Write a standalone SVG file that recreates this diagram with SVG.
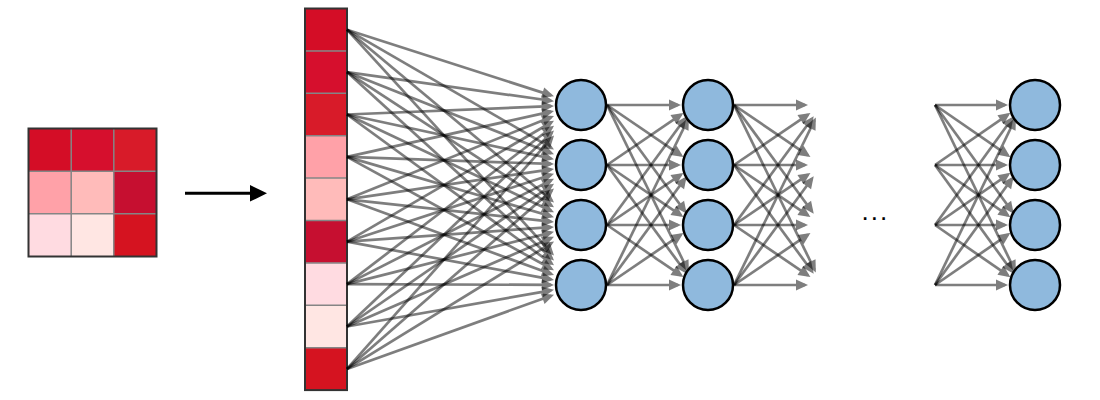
<svg xmlns="http://www.w3.org/2000/svg" width="1100" height="400" viewBox="0 0 1100 400">
<style>
.cells rect{stroke:none}
.gl{stroke:#858585;stroke-width:1.5;fill:none}
.bd{stroke:#333;stroke-width:2;fill:none}
.cn line{stroke:#000;stroke-width:2.7;opacity:.5;marker-end:url(#ah)}
.nd{fill:#8fb9dd;stroke:#000;stroke-width:2.5}
</style>
<defs>
<marker id="ah" markerUnits="userSpaceOnUse" markerWidth="12" markerHeight="11" refX="9" refY="5.5" orient="auto" overflow="visible">
<path d="M0,0 L12,5.5 L0,11 z" fill="#000"/>
</marker>
</defs>
<rect width="1100" height="400" fill="#fff"/>

<g id="input-grid">
<g class="cells">
<rect x="28.5" y="128.5" width="42.7" height="42.7" fill="#d40d26"/>
<rect x="71.2" y="128.5" width="42.7" height="42.7" fill="#d60f2d"/>
<rect x="113.8" y="128.5" width="42.7" height="42.7" fill="#d81b29"/>
<rect x="28.5" y="171.2" width="42.7" height="42.7" fill="#ffa1a8"/>
<rect x="71.2" y="171.2" width="42.7" height="42.7" fill="#ffbbba"/>
<rect x="113.8" y="171.2" width="42.7" height="42.7" fill="#c60f30"/>
<rect x="28.5" y="213.8" width="42.7" height="42.7" fill="#ffdbe1"/>
<rect x="71.2" y="213.8" width="42.7" height="42.7" fill="#ffe6e3"/>
<rect x="113.8" y="213.8" width="42.7" height="42.7" fill="#d51320"/>
</g>
<path class="gl" d="M71.2,128.5V256.5M113.8,128.5V256.5M28.5,171.2H156.5M28.5,213.8H156.5"/>
<rect class="bd" x="28.5" y="128.5" width="128" height="128"/>
</g>

<g id="flatten-arrow">
<line x1="185" y1="193.3" x2="251" y2="193.3" stroke="#000" stroke-width="3"/>
<path d="M250,185 L267,193.3 L250,201.6 z" fill="#000"/>
</g>

<g id="input-vector">
<g class="cells">
<rect x="305" y="8.5" width="42" height="42.4" fill="#d40d26"/>
<rect x="305" y="50.9" width="42" height="42.4" fill="#d60f2d"/>
<rect x="305" y="93.3" width="42" height="42.4" fill="#d81b29"/>
<rect x="305" y="135.7" width="42" height="42.4" fill="#ffa1a8"/>
<rect x="305" y="178.1" width="42" height="42.4" fill="#ffbbba"/>
<rect x="305" y="220.5" width="42" height="42.4" fill="#c60f30"/>
<rect x="305" y="262.9" width="42" height="42.4" fill="#ffdbe1"/>
<rect x="305" y="305.3" width="42" height="42.4" fill="#ffe6e3"/>
<rect x="305" y="347.7" width="42" height="42.4" fill="#d51320"/>
</g>
<path class="gl" d="M305,50.9H347M305,93.3H347M305,135.7H347M305,178.1H347M305,220.5H347M305,262.9H347M305,305.3H347M305,347.7H347"/>
<rect class="bd" x="305" y="8.5" width="42" height="381.6"/>
</g>

<g id="connectors" class="cn">
<line x1="347" y1="29.7" x2="551.14" y2="95.39"/><line x1="347" y1="29.7" x2="551.4" y2="147.89"/><line x1="347" y1="29.7" x2="551.7" y2="200.55"/><line x1="347" y1="29.7" x2="551.97" y2="253.33"/>
<line x1="347" y1="72.1" x2="551.03" y2="100.78"/><line x1="347" y1="72.1" x2="551.21" y2="153.17"/><line x1="347" y1="72.1" x2="551.49" y2="205.72"/><line x1="347" y1="72.1" x2="551.78" y2="258.41"/>
<line x1="347" y1="114.5" x2="551" y2="106.22"/><line x1="347" y1="114.5" x2="551.07" y2="158.54"/><line x1="347" y1="114.5" x2="551.29" y2="210.97"/><line x1="347" y1="114.5" x2="551.58" y2="263.56"/>
<line x1="347" y1="156.9" x2="551.07" y2="111.64"/><line x1="347" y1="156.9" x2="551" y2="163.97"/><line x1="347" y1="156.9" x2="551.12" y2="216.3"/><line x1="347" y1="156.9" x2="551.37" y2="268.78"/>
<line x1="347" y1="199.3" x2="551.22" y2="117"/><line x1="347" y1="199.3" x2="551.03" y2="169.4"/><line x1="347" y1="199.3" x2="551.02" y2="221.7"/><line x1="347" y1="199.3" x2="551.18" y2="274.08"/>
<line x1="347" y1="241.7" x2="551.41" y2="122.28"/><line x1="347" y1="241.7" x2="551.15" y2="174.78"/><line x1="347" y1="241.7" x2="551.01" y2="227.14"/><line x1="347" y1="241.7" x2="551.05" y2="279.45"/>
<line x1="347" y1="284.1" x2="551.62" y2="127.49"/><line x1="347" y1="284.1" x2="551.33" y2="180.1"/><line x1="347" y1="284.1" x2="551.09" y2="232.55"/><line x1="347" y1="284.1" x2="551" y2="284.89"/>
<line x1="347" y1="326.5" x2="551.82" y2="132.62"/><line x1="347" y1="326.5" x2="551.53" y2="185.33"/><line x1="347" y1="326.5" x2="551.25" y2="237.9"/><line x1="347" y1="326.5" x2="551.05" y2="290.31"/>
<line x1="347" y1="368.9" x2="552.01" y2="137.69"/><line x1="347" y1="368.9" x2="551.74" y2="190.5"/><line x1="347" y1="368.9" x2="551.44" y2="243.17"/><line x1="347" y1="368.9" x2="551.18" y2="295.69"/>

<line x1="607" y1="105" x2="678" y2="105"/><line x1="607" y1="165" x2="680.95" y2="114.58"/><line x1="607" y1="225" x2="684.95" y2="118.71"/><line x1="607" y1="285" x2="687.53" y2="120.27"/>
<line x1="607" y1="105" x2="680.95" y2="155.42"/><line x1="607" y1="165" x2="678" y2="165"/><line x1="607" y1="225" x2="680.95" y2="174.58"/><line x1="607" y1="285" x2="684.95" y2="178.71"/>
<line x1="607" y1="105" x2="684.95" y2="211.29"/><line x1="607" y1="165" x2="680.95" y2="215.42"/><line x1="607" y1="225" x2="678" y2="225"/><line x1="607" y1="285" x2="680.95" y2="234.58"/>
<line x1="607" y1="105" x2="687.53" y2="269.73"/><line x1="607" y1="165" x2="684.95" y2="271.29"/><line x1="607" y1="225" x2="680.95" y2="275.42"/><line x1="607" y1="285" x2="678" y2="285"/>

<line x1="734" y1="105" x2="805" y2="105"/><line x1="734" y1="165" x2="807.95" y2="114.58"/><line x1="734" y1="225" x2="811.95" y2="118.71"/><line x1="734" y1="285" x2="814.53" y2="120.27"/>
<line x1="734" y1="105" x2="807.95" y2="155.42"/><line x1="734" y1="165" x2="805" y2="165"/><line x1="734" y1="225" x2="807.95" y2="174.58"/><line x1="734" y1="285" x2="811.95" y2="178.71"/>
<line x1="734" y1="105" x2="811.95" y2="211.29"/><line x1="734" y1="165" x2="807.95" y2="215.42"/><line x1="734" y1="225" x2="805" y2="225"/><line x1="734" y1="285" x2="807.95" y2="234.58"/>
<line x1="734" y1="105" x2="814.53" y2="269.73"/><line x1="734" y1="165" x2="811.95" y2="271.29"/><line x1="734" y1="225" x2="807.95" y2="275.42"/><line x1="734" y1="285" x2="805" y2="285"/>

<line x1="935" y1="105" x2="1005" y2="105"/><line x1="935" y1="165" x2="1007.95" y2="114.58"/><line x1="935" y1="225" x2="1011.95" y2="118.71"/><line x1="935" y1="285" x2="1014.53" y2="120.27"/>
<line x1="935" y1="105" x2="1007.95" y2="155.42"/><line x1="935" y1="165" x2="1005" y2="165"/><line x1="935" y1="225" x2="1007.95" y2="174.58"/><line x1="935" y1="285" x2="1011.95" y2="178.71"/>
<line x1="935" y1="105" x2="1011.95" y2="211.29"/><line x1="935" y1="165" x2="1007.95" y2="215.42"/><line x1="935" y1="225" x2="1005" y2="225"/><line x1="935" y1="285" x2="1007.95" y2="234.58"/>
<line x1="935" y1="105" x2="1014.53" y2="269.73"/><line x1="935" y1="165" x2="1011.95" y2="271.29"/><line x1="935" y1="225" x2="1007.95" y2="275.42"/><line x1="935" y1="285" x2="1005" y2="285"/>
</g>

<g id="h1-1"><circle class="nd" cx="581" cy="105" r="25"/></g>
<g id="h1-2"><circle class="nd" cx="581" cy="165" r="25"/></g>
<g id="h1-3"><circle class="nd" cx="581" cy="225" r="25"/></g>
<g id="h1-4"><circle class="nd" cx="581" cy="285" r="25"/></g>
<g id="h2-1"><circle class="nd" cx="708" cy="105" r="25"/></g>
<g id="h2-2"><circle class="nd" cx="708" cy="165" r="25"/></g>
<g id="h2-3"><circle class="nd" cx="708" cy="225" r="25"/></g>
<g id="h2-4"><circle class="nd" cx="708" cy="285" r="25"/></g>
<g id="out-1"><circle class="nd" cx="1035" cy="105" r="25"/></g>
<g id="out-2"><circle class="nd" cx="1035" cy="165" r="25"/></g>
<g id="out-3"><circle class="nd" cx="1035" cy="225" r="25"/></g>
<g id="out-4"><circle class="nd" cx="1035" cy="285" r="25"/></g>

<g id="ellipsis"><text x="861.5" y="219.5" font-family="'Liberation Sans', Arial, sans-serif" font-size="26" letter-spacing="2" fill="#000">...</text></g>
</svg>
